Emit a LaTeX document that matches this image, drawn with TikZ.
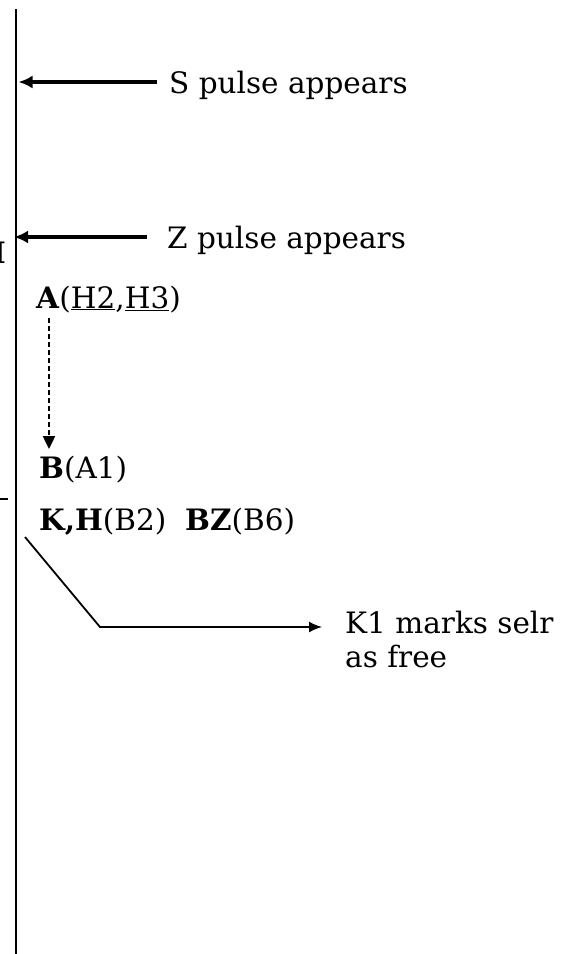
\documentclass[tikz,border=0pt]{standalone}
\usepackage{fontspec}
\setmainfont{DejaVu Serif}
\usetikzlibrary{arrows.meta}
\tikzset{
  lbl/.style={anchor=base west, inner sep=0pt, font=\fontsize{29.5}{34}\selectfont},
  bigarrow/.style={line width=3.2pt, -{Latex[length=14pt,width=13pt]}},
  thinarrow/.style={line width=1.8pt, -{Latex[length=13pt,width=11pt]}},
  dasharrow/.style={line width=2.4pt, dash pattern=on 5pt off 3pt, -{Triangle[length=13pt,width=12pt]}},
}
\begin{document}
\begin{tikzpicture}[x=1pt,y=-1pt]
\useasboundingbox (0,0) rectangle (584,954);
% time line
\coordinate (ltop) at (16,9);
\coordinate (lbot) at (16,960);
\draw[line width=2.6pt] (ltop) -- (lbot);
% S pulse
\node[lbl] (s) at (169,93) {S pulse appears};
\coordinate (sstart) at (157,82);
\coordinate (send) at (18.5,82);
\draw[bigarrow] (sstart) -- (send);
% Z pulse
\node[lbl] (z) at (167,248) {Z pulse appears};
\coordinate (zstart) at (147,237);
\coordinate (zend) at (14,237);
\draw[bigarrow] (zstart) -- (zend);
% clipped letter at left
\node[lbl, anchor=base east] (i) at (6,263) {\textbf{I}};
% tick at left
\coordinate (t1) at (0,499);
\coordinate (t2) at (8,499);
\draw[line width=2.6pt] (t1) -- (t2);
% A
\node[lbl] (a) at (36,308) {\textbf{A}(\underline{H2},\underline{H3})};
\coordinate (da) at (49,318);
\coordinate (db) at (49,449);
\draw[dasharrow] (da) -- (db);
% B
\node[lbl] (b) at (39,478) {\textbf{B}(A1)};
% K,H and BZ
\node[lbl] (kh) at (39,530) {\textbf{K,H}(B2)};
\node[lbl] (bz) at (185,530) {\textbf{BZ}(B6)};
% K1 marks
\node[lbl] (k1) at (345,633) {K1 marks selr};
\node[lbl] (k1b) at (345,667) {as free};
\coordinate (d1) at (25,537);
\coordinate (d2) at (100,627);
\coordinate (d3) at (322,627);
\draw[thinarrow] (d1) -- (d2) -- (d3);
\end{tikzpicture}
\end{document}
